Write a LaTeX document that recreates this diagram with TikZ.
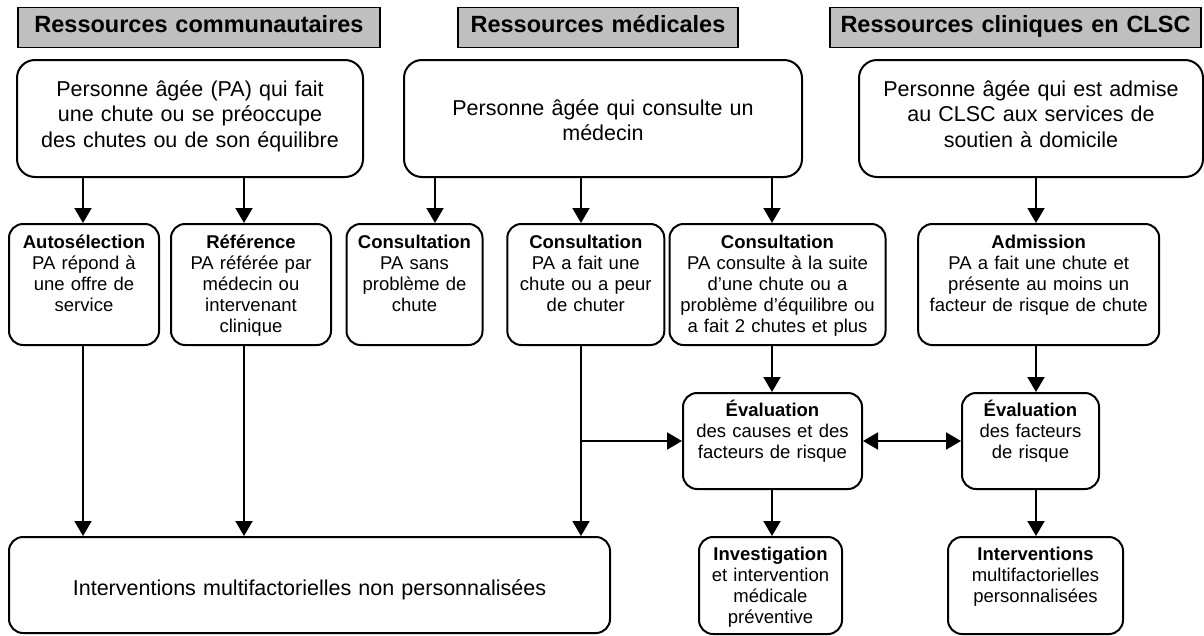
\documentclass[tikz,border=0pt]{standalone}
\usepackage{fontspec}
\setmainfont{Liberation Sans}
\usetikzlibrary{arrows.meta}

\tikzset{
  titre/.style={draw, line width=1.2pt, fill=gray!50, inner sep=0pt, anchor=north, align=center,
    font=\bfseries\fontsize{23.5}{28}\selectfont, text height=24.7pt, text depth=15.3pt},
  grand/.style={draw, line width=2pt, rounded corners=18pt, inner sep=0pt, anchor=north, align=center,
    font=\fontsize{21.5}{25.5}\selectfont},
  petit/.style={draw, line width=2pt, rounded corners=14pt, inner sep=0pt, anchor=north, align=center,
    font=\fontsize{18.5}{21.1}\selectfont, text height=24.5pt},
  fleche/.style={line width=2pt, -{Triangle[width=17pt,length=15pt]}},
  fleches/.style={line width=2pt, {Triangle[width=17pt,length=15pt]}-{Triangle[width=17pt,length=15pt]}}
}

\begin{document}
\begin{tikzpicture}[x=1pt,y=-1pt]
\useasboundingbox (0,0) rectangle (1204,635);
%
\node[titre, text width=362pt] (h1) at (199,7) {Ressources communautaires};
\node[titre, text width=280pt] (h2) at (598,7) {Ressources médicales};
\node[titre, text width=371pt] (h3) at (1015.5,7) {Ressources cliniques en CLSC};
%
\node[grand, text width=346pt, text height=36pt, text depth=81pt] (t1) at (190,59)
  {Personne âgée (PA) qui fait\\une chute ou se préoccupe\\des chutes ou de son équilibre};
\node[grand, text width=398pt, text height=55pt, text depth=62pt] (t2) at (603,59)
  {Personne âgée qui consulte un\\médecin};
\node[grand, text width=344pt, text height=36pt, text depth=81pt] (t3) at (1031,59)
  {Personne âgée qui est admise\\au CLSC aux services de\\soutien à domicile};
%
\node[petit, text width=150pt, text depth=96.5pt] (a1) at (84,223)
  {\textbf{Autosélection}\\PA répond à\\une offre de\\service};
\node[petit, text width=160pt, text depth=96.5pt] (a2) at (251,223)
  {\textbf{Référence}\\PA référée par\\médecin ou\\intervenant\\clinique};
\node[petit, text width=136pt, text depth=96.5pt] (a3) at (414.5,223)
  {\textbf{Consultation}\\PA sans\\problème de\\chute};
\node[petit, text width=157pt, text depth=96.5pt] (a4) at (585.8,223)
  {\textbf{Consultation}\\PA a fait une\\chute ou a peur\\de chuter};
\node[petit, text width=216pt, text depth=96.5pt] (a5) at (777.5,223)
  {\textbf{Consultation}\\PA consulte à la suite\\d’une chute ou a\\problème d’équilibre ou\\a fait 2 chutes et plus};
\node[petit, text width=241pt, text depth=96.5pt] (a6) at (1038.7,223)
  {\textbf{Admission}\\PA a fait une chute et\\présente au moins un\\facteur de risque de chute};
%
\node[petit, text width=179pt, text height=23.5pt, text depth=72.5pt] (e1) at (772.5,392)
  {\textbf{Évaluation}\\des causes et des\\facteurs de risque};
\node[petit, text width=137pt, text height=23.5pt, text depth=72.5pt] (e2) at (1030.5,392)
  {\textbf{Évaluation}\\des facteurs\\de risque};
%
\node[grand, rounded corners=14pt, text width=601pt, text height=58pt, text depth=38pt] (b1) at (309.5,536)
  {Interventions multifactorielles non personnalisées};
\node[petit, text width=143pt, text height=23.5pt, text depth=73.5pt] (b2) at (770.5,536)
  {\textbf{Investigation}\\et intervention\\médicale\\préventive};
\node[petit, text width=175pt, text height=23.5pt, text depth=73.5pt] (b3) at (1035.5,536)
  {\textbf{Interventions}\\multifactorielles\\personnalisées};
%
\coordinate (xa) at (83,0);
\coordinate (xb) at (244,0);
\coordinate (xc) at (435,0);
\coordinate (xd) at (581,0);
\coordinate (xe) at (772,0);
\coordinate (xf) at (1036,0);
%
\draw[fleche] (t1.south -| xa) -- (a1.north -| xa);
\draw[fleche] (t1.south -| xb) -- (a2.north -| xb);
\draw[fleche] (t2.south -| xc) -- (a3.north -| xc);
\draw[fleche] (t2.south -| xd) -- (a4.north -| xd);
\draw[fleche] (t2.south -| xe) -- (a5.north -| xe);
\draw[fleche] (t3.south -| xf) -- (a6.north -| xf);
%
\draw[fleche] (a1.south -| xa) -- (b1.north -| xa);
\draw[fleche] (a2.south -| xb) -- (b1.north -| xb);
\draw[fleche] (a4.south -| xd) -- (b1.north -| xd);
\draw[fleche] (e1.west -| xd) -- (e1.west);
\draw[fleche] (a5.south -| xe) -- (e1.north -| xe);
\draw[fleche] (a6.south -| xf) -- (e2.north -| xf);
\draw[fleches] (e1.east) -- (e2.west);
\draw[fleche] (e1.south -| xe) -- (b2.north -| xe);
\draw[fleche] (e2.south -| xf) -- (b3.north -| xf);
%
\end{tikzpicture}
\end{document}
